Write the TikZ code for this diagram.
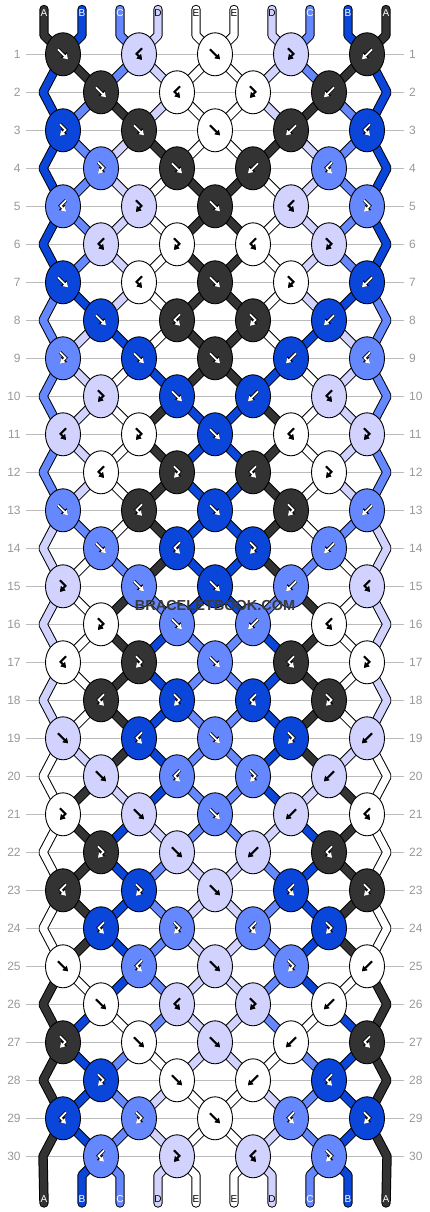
\documentclass[tikz,border=0pt]{standalone}
\usepackage{fontspec}
\setmainfont{Liberation Sans}
\usetikzlibrary{shapes.geometric,arrows.meta}
\definecolor{cK}{HTML}{333333}
\definecolor{cB}{HTML}{0B46DB}
\definecolor{cM}{HTML}{6688FF}
\definecolor{cV}{HTML}{D2D2FF}
\definecolor{cW}{HTML}{FFFFFF}
\definecolor{gridc}{HTML}{BBBBBB}
\definecolor{numc}{HTML}{999999}
\definecolor{wmc}{HTML}{3A3A3A}
\pgfdeclarelayer{grid}
\pgfdeclarelayer{strands}
\pgfsetlayers{grid,strands,main}
\tikzset{
  knot/.style={ellipse, draw=black, line width=0.9pt, minimum width=35pt, minimum height=43pt, inner sep=0pt},
  band/.style={line width=7.4pt, line cap=round, line join=bevel, preaction={draw=black, line width=9.4pt, line cap=round, line join=bevel}},
  rowline/.style={draw=gridc, line width=1.1pt},
  numlab/.style={text=numc, inner sep=0pt, font=\fontsize{12}{14}\selectfont},
  strlab/.style={inner sep=0pt, font=\fontsize{10}{12}\selectfont},
  symo/.style={line width=3.3pt, -{Triangle[length=6.2pt,width=7.8pt]}},
  symi/.style={line width=1.8pt, -{Triangle[length=4.8pt,width=5.8pt]}},
  oK/.style={draw=black,symo}, iK/.style={draw=white,symi},
  oB/.style={draw=black,symo}, iB/.style={draw=white,symi},
  oM/.style={draw=black,symo}, iM/.style={draw=white,symi},
  oV/.style={draw=black,symi}, iV/.style={draw=black,symi},
  oW/.style={draw=black,symi}, iW/.style={draw=black,symi},
}
\newcommand\knsymf[1]{\draw[#1] (-5,-5) -- (5,5);}
\newcommand\knsymb[1]{\draw[#1] (5,-5) -- (-5,5);}
\newcommand\knsymfb[1]{\draw[#1] (-3,-6) -- (2.5,-0.5) -- (-3,5.5);}
\newcommand\knsymbf[1]{\draw[#1] (3,-6) -- (-2.5,-0.5) -- (3,5.5);}
\newcommand\kn[4]{%
  \pgfmathsetmacro\kx{63+38*(1-mod(#1,2))+76*(#2-1)}%
  \pgfmathsetmacro\ky{16.3+38*#1}%
  \node[knot,fill=c#4] (k#1-#2) at (\kx,\ky) {};%
  \begin{scope}[shift={(k#1-#2.center)}]%
    \csname knsym#3\endcsname{o#4}%
    \csname knsym#3\endcsname{i#4}%
  \end{scope}}
\newcommand\krow[2]{\foreach \t/\c [count=\i] in {#2}{\edef\tmp{\noexpand\kn{#1}{\i}{\t}{\c}}\tmp}}
\newcommand\strand[3]{\draw[band,draw=#1] (#2.center) \foreach \q in {#3}{ -- (\q.center)};}
\begin{document}
\begin{tikzpicture}[x=1pt,y=-1pt]
\useasboundingbox (0,0) rectangle (430,1212);
% row guide lines and numbers
\begin{pgfonlayer}{grid}
\fill[white] (0,0) rectangle (430,1212);
\foreach \r in {1,...,30}{
  \draw[rowline] (26,{16.3+38*\r}) -- (404,{16.3+38*\r});
  \node[numlab,anchor=east] (nl\r) at (20.8,{16.3+38*\r}) {\r};
  \node[numlab,anchor=west] (nr\r) at (409,{16.3+38*\r}) {\r};
}
\end{pgfonlayer}
% coordinates for tails and edges
\foreach \i in {1,...,10}{
  \coordinate (t\i) at ({44+38*(\i-1)},9.5);
  \coordinate (u\i) at ({44+38*(\i-1)},35.3);
  \coordinate (w\i) at ({44+38*(\i-1)},1175.3);
  \coordinate (z\i) at ({44+38*(\i-1)},1203);
}
\foreach \r in {2,4,...,30}{
  \coordinate (L\r) at (43,{16.3+38*\r});
  \coordinate (R\r) at (387,{16.3+38*\r});
}
% knots
\krow{1}{f/K,bf/V,f/W,fb/V,b/K}
\krow{2}{f/K,bf/W,fb/W,b/K}
\krow{3}{fb/B,f/K,f/W,b/K,bf/B}
\krow{4}{fb/M,f/K,b/K,bf/M}
\krow{5}{bf/M,fb/V,f/K,bf/V,fb/M}
\krow{6}{bf/V,fb/W,bf/W,fb/V}
\krow{7}{f/B,bf/W,f/K,fb/W,b/B}
\krow{8}{f/B,bf/K,fb/K,b/B}
\krow{9}{fb/M,f/B,f/K,b/B,bf/M}
\krow{10}{fb/V,f/B,b/B,bf/V}
\krow{11}{bf/V,fb/W,f/B,bf/W,fb/V}
\krow{12}{bf/W,fb/K,bf/K,fb/W}
\krow{13}{f/M,bf/K,f/B,fb/K,b/M}
\krow{14}{f/M,bf/B,fb/B,b/M}
\krow{15}{fb/V,f/M,f/B,b/M,bf/V}
\krow{16}{fb/W,f/M,b/M,bf/W}
\krow{17}{bf/W,fb/K,f/M,bf/K,fb/W}
\krow{18}{bf/K,fb/B,bf/B,fb/K}
\krow{19}{f/V,bf/B,f/M,fb/B,b/V}
\krow{20}{f/V,bf/M,fb/M,b/V}
\krow{21}{fb/W,f/V,f/M,b/V,bf/W}
\krow{22}{fb/K,f/V,b/V,bf/K}
\krow{23}{bf/K,fb/B,f/V,bf/B,fb/K}
\krow{24}{bf/B,fb/M,bf/M,fb/B}
\krow{25}{f/W,bf/M,f/V,fb/M,b/W}
\krow{26}{f/W,bf/V,fb/V,b/W}
\krow{27}{fb/K,f/W,f/V,b/W,bf/K}
\krow{28}{fb/B,f/W,b/W,bf/B}
\krow{29}{bf/B,fb/M,f/W,bf/M,fb/B}
\krow{30}{bf/M,fb/V,bf/V,fb/M}
% strings
\begin{pgfonlayer}{strands}
\strand{cK}{t1}{u1,k1-1,k2-1,k3-2,k4-2,k5-3,k6-3,k7-3,k8-2,k9-3,k10-3,k11-4,k12-3,k13-4,k14-3,k15-4,k16-4,k17-4,k18-4,k19-4,k20-4,k21-5,k22-4,k23-5,k24-4,k25-5,R26,k27-5,R28,k29-5,R30,z10}
\strand{cB}{t2}{u2,k1-1,L2,k3-1,L4,k5-1,L6,k7-1,k8-1,k9-2,k10-2,k11-3,k12-3,k13-3,k14-2,k15-3,k16-3,k17-4,k18-3,k19-4,k20-3,k21-4,k22-4,k23-4,k24-4,k25-4,k26-4,k27-5,k28-4,k29-5,k30-4,w9,z9}
\strand{cM}{t3}{u3,k1-2,k2-1,k3-1,k4-1,k5-1,k6-1,k7-1,L8,k9-1,L10,k11-1,L12,k13-1,k14-1,k15-2,k16-2,k17-3,k18-3,k19-3,k20-2,k21-3,k22-3,k23-4,k24-3,k25-4,k26-3,k27-4,k28-4,k29-4,k30-4,w8,z8}
\strand{cV}{t4}{u4,k1-2,k2-2,k3-2,k4-1,k5-2,k6-1,k7-2,k8-1,k9-1,k10-1,k11-1,k12-1,k13-1,L14,k15-1,L16,k17-1,L18,k19-1,k20-1,k21-2,k22-2,k23-3,k24-3,k25-3,k26-2,k27-3,k28-3,k29-4,k30-3,w7,z7}
\strand{cW}{t5}{u5,k1-3,k2-3,k3-3,k4-2,k5-2,k6-2,k7-2,k8-2,k9-2,k10-1,k11-2,k12-1,k13-2,k14-1,k15-1,k16-1,k17-1,k18-1,k19-1,L20,k21-1,L22,k23-1,L24,k25-1,k26-1,k27-2,k28-2,k29-3,k30-3,w6,z6}
\strand{cW}{t6}{u6,k1-3,k2-2,k3-3,k4-3,k5-4,k6-3,k7-4,k8-3,k9-4,k10-4,k11-4,k12-4,k13-4,k14-4,k15-5,k16-4,k17-5,k18-4,k19-5,R20,k21-5,R22,k23-5,R24,k25-5,k26-4,k27-4,k28-3,k29-3,k30-2,w5,z5}
\strand{cV}{t7}{u7,k1-4,k2-3,k3-4,k4-4,k5-4,k6-4,k7-4,k8-4,k9-5,k10-4,k11-5,k12-4,k13-5,R14,k15-5,R16,k17-5,R18,k19-5,k20-4,k21-4,k22-3,k23-3,k24-2,k25-3,k26-3,k27-3,k28-2,k29-2,k30-2,w4,z4}
\strand{cM}{t8}{u8,k1-4,k2-4,k3-5,k4-4,k5-5,k6-4,k7-5,R8,k9-5,R10,k11-5,R12,k13-5,k14-4,k15-4,k16-3,k17-3,k18-2,k19-3,k20-3,k21-3,k22-2,k23-2,k24-2,k25-2,k26-2,k27-2,k28-1,k29-2,k30-1,w3,z3}
\strand{cB}{t9}{u9,k1-5,R2,k3-5,R4,k5-5,R6,k7-5,k8-4,k9-4,k10-3,k11-3,k12-2,k13-3,k14-3,k15-3,k16-2,k17-2,k18-2,k19-2,k20-2,k21-2,k22-1,k23-2,k24-1,k25-2,k26-1,k27-1,k28-1,k29-1,k30-1,w2,z2}
\strand{cK}{t10}{u10,k1-5,k2-4,k3-4,k4-3,k5-3,k6-2,k7-3,k8-3,k9-3,k10-2,k11-2,k12-2,k13-2,k14-2,k15-2,k16-1,k17-2,k18-1,k19-2,k20-1,k21-1,k22-1,k23-1,k24-1,k25-1,L26,k27-1,L28,k29-1,L30,z1}
\end{pgfonlayer}
% string labels
\foreach \i/\l/\tc in {1/A/white,2/B/white,3/C/white,4/D/black,5/E/black,6/E/black,7/D/black,8/C/white,9/B/white,10/A/white}{
  \node[strlab,text=\tc] (la\i) at ({44+38*(\i-1)},13.3) {\l};
  \node[strlab,text=\tc] (lb\i) at ({44+38*(\i-1)},1199.5) {\l};
}
% watermark
\node[text=wmc, inner sep=0pt, font=\bfseries\fontsize{14.5}{16}\selectfont] (wm) at (215,605.7) {BRACELETBOOK.COM};
\end{tikzpicture}
\end{document}
